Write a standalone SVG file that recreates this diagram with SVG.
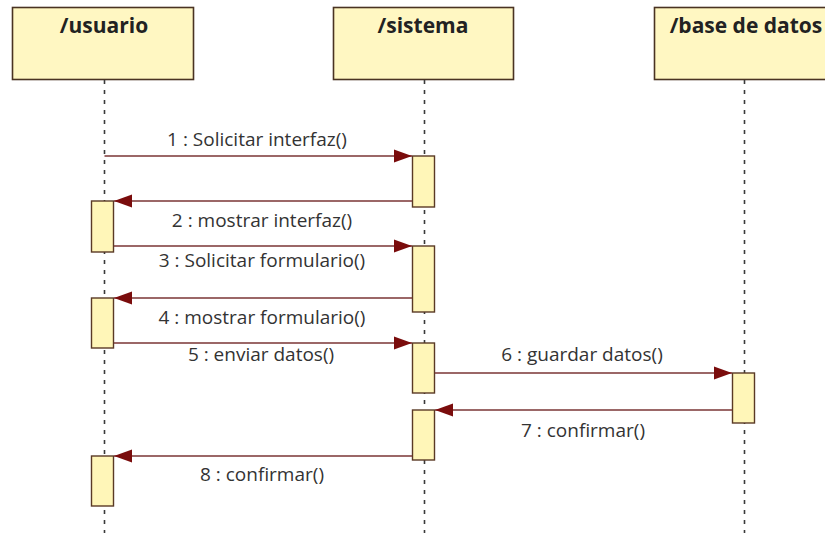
<svg xmlns="http://www.w3.org/2000/svg" width="825" height="533" viewBox="0 0 825 533">
<defs>
<style>
.hdr{fill:#fff7c2;stroke:#4a3322;stroke-width:1.6}
.act{fill:#fff6b8;stroke:#5a3a25;stroke-width:1.4}
.life{stroke:#3a3a3a;stroke-width:1.6;stroke-dasharray:4 6;fill:none}
.msg{stroke:#7a3434;stroke-width:1.6;fill:none}
.ht{font-family:"Open Sans","DejaVu Sans",sans-serif;font-weight:bold;font-size:21px;fill:#222;text-anchor:middle}
.lt{font-family:"Open Sans","DejaVu Sans",sans-serif;font-size:19px;fill:#333;text-anchor:middle}
</style>
<marker id="ah" markerWidth="18" markerHeight="14" refX="18" refY="7" orient="auto" markerUnits="userSpaceOnUse">
<path d="M0,0.5 L18,7 L0,13.5 Z" fill="#7a0c0c"/>
</marker>
</defs>
<rect width="825" height="533" fill="#ffffff"/>
<g id="usuario">
<rect class="hdr" x="12.5" y="7.5" width="181" height="72"/>
<text class="ht" x="104" y="33">/usuario</text>
<line class="life" x1="104.5" y1="80" x2="104.5" y2="533"/>
</g>
<g id="sistema">
<rect class="hdr" x="333.5" y="7.5" width="180" height="72"/>
<text class="ht" x="423" y="33">/sistema</text>
<line class="life" x1="424.5" y1="80" x2="424.5" y2="533"/>
</g>
<g id="base_de_datos">
<rect class="hdr" x="654.5" y="7.5" width="182" height="72"/>
<text class="ht" x="746" y="33">/base de datos</text>
<line class="life" x1="744.5" y1="80" x2="744.5" y2="533"/>
</g>
<g id="activations">
<rect class="act" x="412.5" y="156" width="22" height="51"/>
<rect class="act" x="91.5" y="201" width="22" height="51"/>
<rect class="act" x="412.5" y="246" width="22" height="66"/>
<rect class="act" x="91.5" y="298" width="22" height="50"/>
<rect class="act" x="412.5" y="343" width="22" height="50"/>
<rect class="act" x="732.5" y="373" width="22" height="50"/>
<rect class="act" x="412.5" y="410" width="22" height="50"/>
<rect class="act" x="91.5" y="456" width="22" height="50"/>
</g>
<g id="connectors">
<line class="msg" x1="104.5" y1="156" x2="412" y2="156" marker-end="url(#ah)"/>
<line class="msg" x1="412" y1="201" x2="114" y2="201" marker-end="url(#ah)"/>
<line class="msg" x1="114" y1="246" x2="412" y2="246" marker-end="url(#ah)"/>
<line class="msg" x1="412" y1="298" x2="114" y2="298" marker-end="url(#ah)"/>
<line class="msg" x1="114" y1="343" x2="412" y2="343" marker-end="url(#ah)"/>
<line class="msg" x1="435" y1="373" x2="732" y2="373" marker-end="url(#ah)"/>
<line class="msg" x1="732" y1="410" x2="435" y2="410" marker-end="url(#ah)"/>
<line class="msg" x1="412" y1="456" x2="114" y2="456" marker-end="url(#ah)"/>
</g>
<g id="labels">
<text class="lt" x="257" y="146">1 : Solicitar interfaz()</text>
<text class="lt" x="262" y="227">2 : mostrar interfaz()</text>
<text class="lt" x="262" y="267">3 : Solicitar formulario()</text>
<text class="lt" x="262" y="324">4 : mostrar formulario()</text>
<text class="lt" x="261" y="361">5 : enviar datos()</text>
<text class="lt" x="582" y="361">6 : guardar datos()</text>
<text class="lt" x="583" y="437">7 : confirmar()</text>
<text class="lt" x="262" y="481">8 : confirmar()</text>
</g>
</svg>
